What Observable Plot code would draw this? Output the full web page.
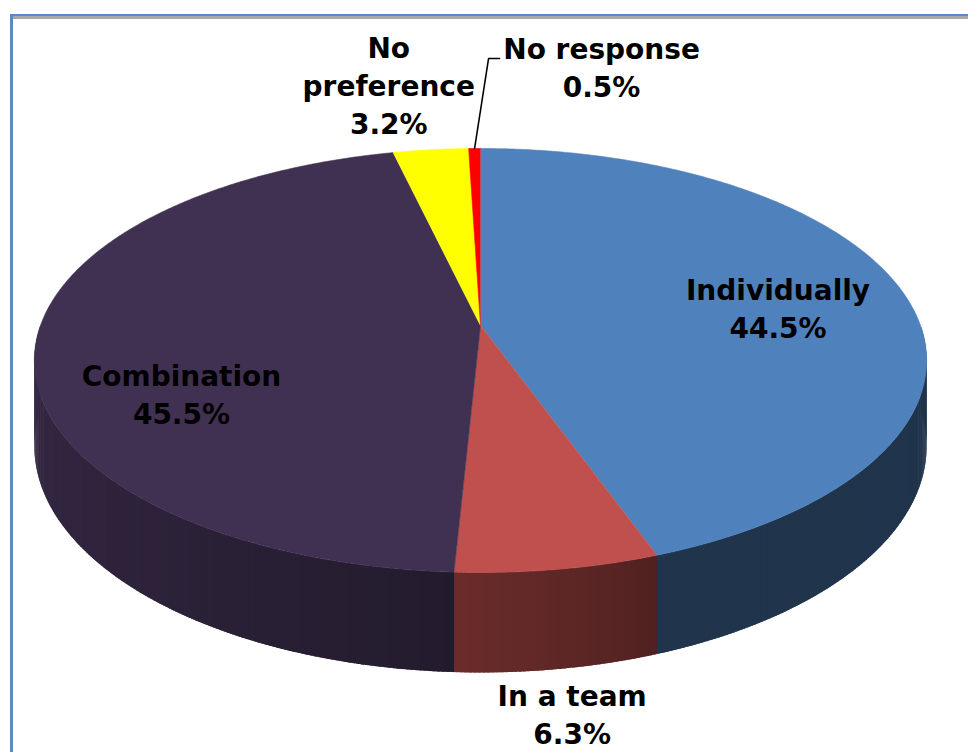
<!DOCTYPE html>
<html>
<head>
<meta charset="utf-8">
<script src="https://cdn.jsdelivr.net/npm/d3@7"></script>
<script src="https://cdn.jsdelivr.net/npm/@observablehq/plot@0.6"></script>
<style>
  html, body { margin: 0; padding: 0; background: #fff; overflow: hidden; }
  #wrap { position: relative; width: 968px; height: 752px; }
  #frame {
    position: absolute; left: 10px; top: 14px; width: 1000px; height: 800px;
    border-top: 2px solid #5b8ac7; border-left: 3px solid #5b8ac7;
    box-shadow: inset 0 3px 0 0 #a8a8a8; pointer-events: none;
  }
</style>
</head>
<body>
<div id="wrap"><div id="chart"></div><div id="frame"></div></div>
<script>
// ---- data ----
const categories = ["Individually", "In a team", "Combination", "No preference", "No response"];
const percents = [44.5, 6.3, 45.5, 3.2, 0.5];
const percentLabels = ["44.5%", "6.3%", "45.5%", "3.2%", "0.5%"];
const categoryLines = [["Individually"], ["In a team"], ["Combination"], ["No", "preference"], ["No response"]];

// ---- styles / layout ----
const sliceColors = ["#4f81bd", "#c0504d", "#403152", "#ffff00", "#ff0000"];
// label placement: radial factor k on the mid angle, then pixel offsets
const labelLayout = [
  {k: 0.70, dx: 0, dy: 9},
  {k: 1.15, dx: 0, dy: 102},
  {k: 0.68, dx: 2, dy: 58},
  {k: 1.00, dx: -42, dy: -63},
  {k: 1.00, dx: 127, dy: -79}
];
const leaderFor = 4; // "No response" gets a leader line
const W = 968, H = 752;
const geo = {cx: 480, cy: 325, a: 440, c: 152.6, e: 0.165, depth: 83.5};
const fontSize = 28, lineGap = 38;

function project(theta, k = 1, z = 0) {
  const u = k * Math.sin(theta), v = -k * Math.cos(theta);
  const w = 1 - geo.e * v;
  return [geo.cx + geo.a * u / w, (geo.c * v + geo.cy + z * geo.depth) / w];
}
function shade(theta) {
  const deg = theta * 180 / Math.PI;
  const t = Math.max(0, Math.min(1, (deg - 160) / 110));
  return 0.40 + 0.45 * Math.pow(t, 0.7);
}

const rows = categories.map((c, i) => ({category: c, value: percents[i], i}));
const arcs = d3.pie().sort(null).value(d => d.value)(rows);

// side walls (front half only), drawn as thin overlapping strips for shading
const wallRows = [];
let sid = 0;
const wallEnd = 3 * Math.PI / 2;
arcs.forEach((a, i) => {
  const t0 = Math.max(a.startAngle, Math.PI / 2), t1 = Math.min(a.endAngle, wallEnd);
  if (t1 <= t0) return;
  const n = Math.max(1, Math.ceil((t1 - t0) / (Math.PI / 360)));
  const step = (t1 - t0) / n;
  const base = d3.rgb(sliceColors[i]);
  for (let j = 0; j < n; j++) {
    const a0 = t0 + step * j;
    const a1 = Math.min(t0 + step * (j + 1) + step * 0.8, wallEnd);
    const f = shade(a0 + step / 2);
    const col = d3.rgb(base.r * f, base.g * f, base.b * f).formatHex();
    [project(a0, 1, 0), project(a1, 1, 0), project(a1, 1, 1), project(a0, 1, 1)]
      .forEach(([x, y]) => wallRows.push({id: sid, x, y, fill: col}));
    sid++;
  }
});

// top surface
const topRows = [];
arcs.forEach((a, i) => {
  const [ax, ay] = project(0, 0);
  topRows.push({id: i, x: ax, y: ay, fill: sliceColors[i]});
  const n = Math.max(4, Math.ceil((a.endAngle - a.startAngle) / (Math.PI / 360)));
  for (let j = 0; j <= n; j++) {
    const t = a.startAngle + (a.endAngle - a.startAngle) * j / n;
    const [x, y] = project(t);
    topRows.push({id: i, x, y, fill: sliceColors[i]});
  }
});

// labels
const textRows = [];
const leaderRows = [];
arcs.forEach((a, i) => {
  const mid = (a.startAngle + a.endAngle) / 2;
  const L = labelLayout[i];
  const [px, py] = project(mid, L.k);
  const cx = px + L.dx, cy = py + L.dy;
  const lines = [...categoryLines[i], percentLabels[i]];
  lines.forEach((t, j) => {
    textRows.push({text: t, x: cx, y: cy + (j - (lines.length - 1) / 2) * lineGap});
  });
  if (i === leaderFor) {
    const [sx, sy] = project(mid, 1);
    const y1 = cy - (lines.length - 1) / 2 * lineGap + 8;
    leaderRows.push({x: sx, y: sy}, {x: cx - 113, y: y1}, {x: cx - 102, y: y1});
  }
});

const chart = Plot.plot({
  width: W, height: H, margin: 0,
  style: {background: "transparent"},
  x: {domain: [0, W], range: [0, W], axis: null},
  y: {domain: [0, H], range: [0, H], axis: null},
  color: {type: "identity"},
  marks: [
    Plot.line(wallRows, {x: "x", y: "y", z: "id", fill: "fill", stroke: "none"}),
    Plot.line(topRows, {x: "x", y: "y", z: "id", fill: "fill", stroke: "fill", strokeWidth: 0.6}),
    Plot.line(leaderRows, {x: "x", y: "y", stroke: "black", strokeWidth: 1.6}),
    Plot.text(textRows, {x: "x", y: "y", text: "text", fontSize, fontWeight: "bold",
      fontFamily: "DejaVu Sans", fill: "black"})
  ]
});
document.getElementById("chart").appendChild(chart);
</script>
</body>
</html>
